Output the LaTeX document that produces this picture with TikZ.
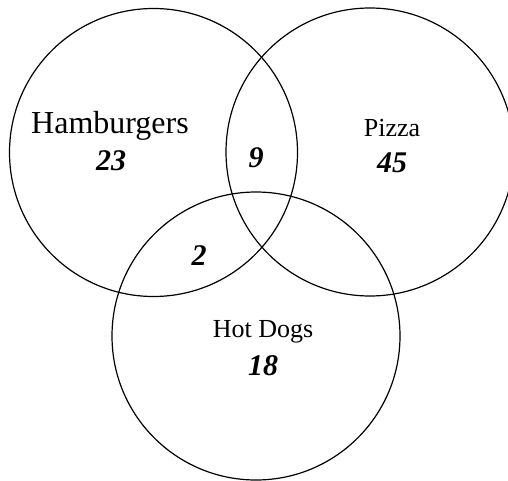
\documentclass[tikz,border=0pt]{standalone}
\usepackage{fontspec}
\setmainfont{Liberation Serif}
\begin{document}
\begin{tikzpicture}[x=1pt,y=-1pt,
  ring/.style={draw=black,line width=1.2pt},
  biglabel/.style={font=\fontsize{32}{36}\selectfont,inner sep=0pt},
  label/.style={font=\fontsize{26}{30}\selectfont,inner sep=0pt},
  num/.style={font=\fontsize{30}{34}\selectfont\bfseries\itshape,inner sep=0pt}]
\useasboundingbox (0,0) rectangle (508,481);
\draw[ring] (153.5,152.5) circle[radius=144];
\draw[ring] (370,152) circle[radius=144];
\draw[ring] (256,336) circle[radius=144];
\node[biglabel] (ham) at (110,126) {Hamburgers};
\node[num] (n23) at (111,161) {23};
\node[num] (n9) at (256,158) {9};
\node[label] (piz) at (392,128) {Pizza};
\node[num] (n45) at (392,163) {45};
\node[num] (n2) at (199,256) {2};
\node[label] (hot) at (263,332) {Hot Dogs};
\node[num] (n18) at (263,366) {18};
\end{tikzpicture}
\end{document}
